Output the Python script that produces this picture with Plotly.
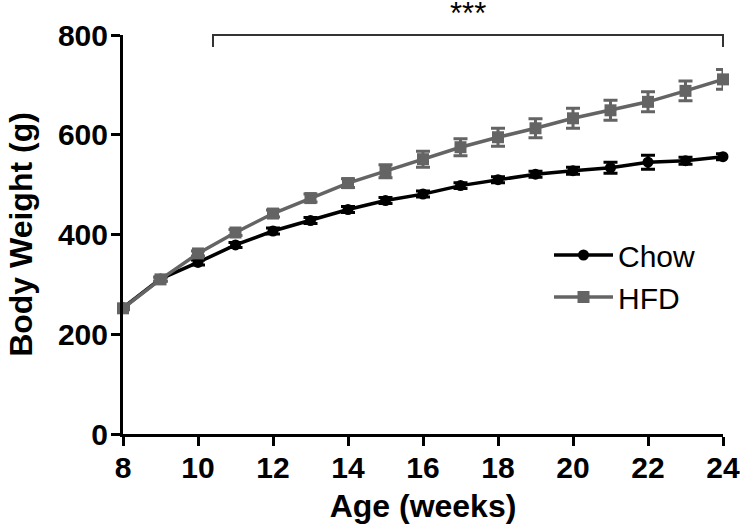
import plotly.graph_objects as go

weeks = list(range(8, 25))
chow = [253, 311, 344, 379, 407, 428, 450, 468, 481, 498, 510, 521, 528, 534, 545, 548, 556]
chow_err = [3, 4, 5, 5, 6, 6, 6, 6, 6, 6, 6, 6, 7, 11, 14, 7, 6]
hfd = [252, 310, 362, 404, 442, 473, 503, 527, 551, 575, 595, 613, 633, 649, 666, 688, 711]
hfd_err = [3, 4, 5, 6, 7, 8, 9, 13, 16, 17, 18, 19, 20, 20, 20, 20, 20]

x_min, x_max = 8, 24
y_min, y_max = 0, 800
bracket_start, bracket_end = 10.4, 24
sig_label = "***"

BLACK = "#000000"
GRAY = "#646464"
FONT = "Liberation Sans, Arial, sans-serif"

fig = go.Figure()
fig.add_trace(go.Scatter(
    x=weeks, y=chow, name="Chow", mode="lines+markers",
    line=dict(color=BLACK, width=3.5),
    marker=dict(symbol="circle", size=11, color=BLACK),
    error_y=dict(type="data", array=chow_err, color=BLACK, thickness=3, width=7),
    cliponaxis=False,
))
fig.add_trace(go.Scatter(
    x=weeks, y=hfd, name="HFD", mode="lines+markers",
    line=dict(color=GRAY, width=3.5),
    marker=dict(symbol="square", size=12, color=GRAY),
    error_y=dict(type="data", array=hfd_err, color=GRAY, thickness=3, width=7),
    cliponaxis=False,
))

def px(v):
    return (v - x_min) / (x_max - x_min)

plot_h = 399
leg = 12 / plot_h
fig.add_shape(type="path",
              path=f"M {px(bracket_start)},{1 - leg} L {px(bracket_start)},1 L {px(bracket_end)},1 L {px(bracket_end)},{1 - leg}",
              xref="paper", yref="paper", line=dict(color="#333333", width=2))
fig.add_annotation(x=(px(bracket_start) + px(bracket_end)) / 2, y=1 + 35 / plot_h,
                   xref="paper", yref="paper", text=sig_label, showarrow=False,
                   font=dict(family=FONT, size=31, color=BLACK), yanchor="top",
                   borderpad=0, yshift=5)

axis_common = dict(
    showline=True, linecolor=BLACK, linewidth=3,
    ticks="outside", ticklen=9, tickwidth=3, tickcolor=BLACK,
    showgrid=False, zeroline=False, automargin=False,
    tickfont=dict(family=FONT, size=30, color=BLACK, weight="bold"),
)
fig.update_xaxes(range=[x_min, x_max], tickvals=list(range(8, 25, 2)), ticklabelstandoff=-4,
                 title=dict(text="Age (weeks)", font=dict(family=FONT, size=32, color=BLACK, weight="bold"), standoff=12),
                 **axis_common)
fig.update_yaxes(range=[y_min, y_max], tickvals=[0, 200, 400, 600, 800], ticklabelstandoff=-3,
                 title=dict(text="Body Weight (g)", font=dict(family=FONT, size=32, color=BLACK, weight="bold"), standoff=16),
                 **axis_common)

fig.update_layout(
    template="none",
    width=740, height=529,
    margin=dict(l=123, r=17, t=35, b=95),
    paper_bgcolor="white", plot_bgcolor="white",
    showlegend=True,
    legend=dict(x=0.71, y=0.396, xanchor="left", yanchor="middle",
                font=dict(family=FONT, size=30, color=BLACK),
                bgcolor="rgba(0,0,0,0)", itemwidth=59),
)

fig.write_html("out.html", config={"displayModeBar": False},
               post_script="document.body.style.margin='0';")
